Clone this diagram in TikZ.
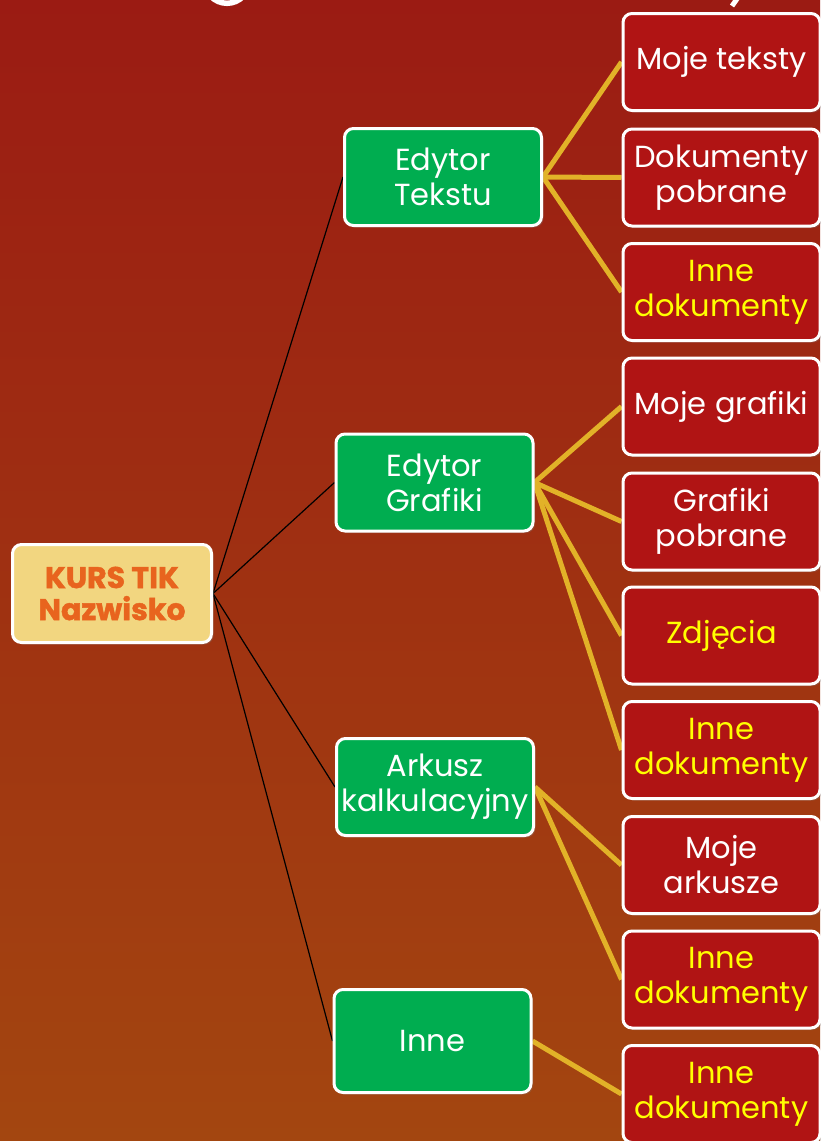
\documentclass[tikz,border=0pt]{standalone}
\usepackage{fontspec}
\setmainfont{Poppins}
\newfontfamily\rootfont{Poppins}[FakeBold=1.5]
\usepackage{xcolor}
\usetikzlibrary{shadows,backgrounds}

\definecolor{bgtop}{RGB}{155,27,19}
\definecolor{bgbottom}{RGB}{163,70,16}
\definecolor{boxgreen}{RGB}{0,173,80}
\definecolor{boxred}{RGB}{176,20,20}
\definecolor{rootfill}{RGB}{242,214,128}
\definecolor{rootorange}{RGB}{232,100,30}
\definecolor{twiggold}{RGB}{226,178,40}
\definecolor{leafyellow}{RGB}{255,255,0}

\tikzset{
  box/.style={draw=white, line width=3pt, rounded corners=9pt, align=center,
    inner sep=0pt, text=white, font=\fontsize{30.5}{35}\selectfont,
    minimum width=197pt, minimum height=97pt,
    drop shadow={opacity=0.3, shadow xshift=2pt, shadow yshift=-2pt}},
  rootbox/.style={box, fill=rootfill, text=rootorange,
    font=\rootfont\bfseries\fontsize{30}{32}\selectfont},
  mainbox/.style={box, fill=boxgreen},
  leafbox/.style={box, fill=boxred},
  yellowtext/.style={text=leafyellow},
  thinlink/.style={draw=black, line width=1.2pt},
  goldlink/.style={draw=twiggold, line width=5pt},
}

\begin{document}
\begin{tikzpicture}[x=1pt, y=-1pt]
  \useasboundingbox (0,0) rectangle (820,1141);

  % Root box
  \node[rootbox, minimum width=199pt, minimum height=98pt] (root) at (112,593.5) {KURS TIK\\Nazwisko};

  % Programs (green boxes)
  \node[mainbox] (edtekst) at (443,177) {Edytor\\Tekstu};
  \node[mainbox] (edgraf) at (434.5,482.5) {Edytor\\Grafiki};
  \node[mainbox] (arkusz) at (435,787) {Arkusz\\kalkulacyjny};
  \node[mainbox, minimum height=103pt] (inne) at (432.5,1041) {Inne};

  % Folders (red boxes)
  \node[leafbox] (mojetek) at (721.5,62) {Moje teksty};
  \node[leafbox] (dokpob) at (721.5,177.5) {Dokumenty\\pobrane};
  \node[leafbox, yellowtext] (inndok1) at (721.5,292) {Inne\\dokumenty};
  \node[leafbox] (mojegraf) at (721.5,406.5) {Moje grafiki};
  \node[leafbox] (grafpob) at (721.5,521.5) {Grafiki\\pobrane};
  \node[leafbox, yellowtext] (zdjecia) at (721.5,635.5) {Zdjęcia};
  \node[leafbox, yellowtext] (inndok2) at (721.5,750) {Inne\\dokumenty};
  \node[leafbox] (mojeark) at (721.5,865) {Moje\\arkusze};
  \node[leafbox, yellowtext] (inndok3) at (721.5,979.5) {Inne\\dokumenty};
  \node[leafbox, yellowtext] (inndok4) at (721.5,1094) {Inne\\dokumenty};

  \begin{scope}[on background layer]
    % Background running from dark red to brown
    \shade[top color=bgtop, bottom color=bgbottom] (0,0) rectangle (820,1141);

    % Bits of the cut-off title
    \draw[white, line width=5.5pt] (227,-19) circle (22.3);
    \draw[white, line width=5pt] (739,-4) -- (732,6);

    % Links root -> programs
    \foreach \prog in {edtekst,edgraf,arkusz,inne}
      \draw[thinlink] (root.east) -- (\prog.west);

    % Links programs -> folders
    \foreach \leaf in {mojetek,dokpob,inndok1}
      \draw[goldlink] (edtekst.east) -- (\leaf.west);
    \foreach \leaf in {mojegraf,grafpob,zdjecia,inndok2}
      \draw[goldlink] (edgraf.east) -- (\leaf.west);
    \foreach \leaf in {mojeark,inndok3}
      \draw[goldlink] (arkusz.east) -- (\leaf.west);
    \draw[goldlink] (inne.east) -- (inndok4.west);
  \end{scope}
\end{tikzpicture}
\end{document}
